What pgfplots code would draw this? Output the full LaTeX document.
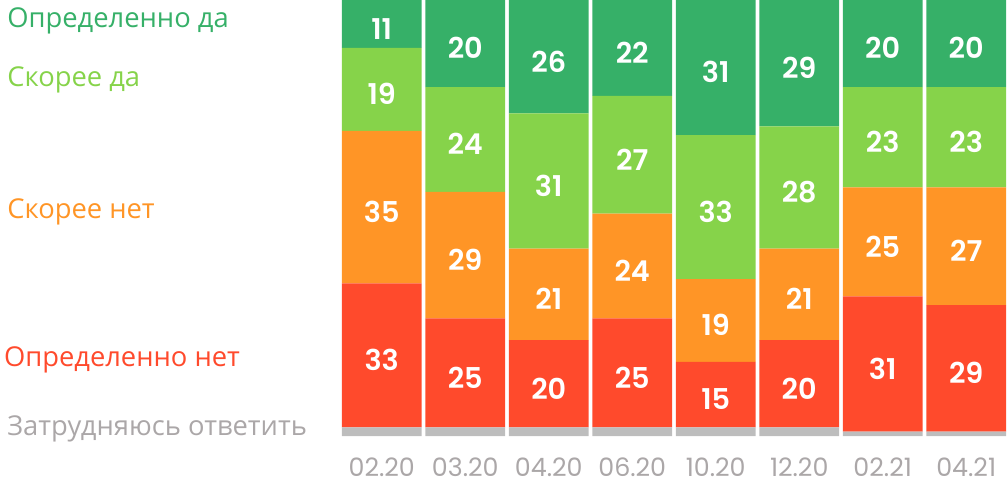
\documentclass[border=0pt]{standalone}
\usepackage{pgfplots}
\pgfplotsset{compat=1.18}
\usepackage{fontspec}
\setmainfont{Open Sans}
\newfontfamily\pop{Poppins}
\newfontfamily\popsb{Poppins SemiBold}
\definecolor{cdg}{HTML}{36B068}
\definecolor{clg}{HTML}{86D34A}
\definecolor{cor}{HTML}{FF9526}
\definecolor{cre}{HTML}{FF4A2C}
\definecolor{cgr}{HTML}{BDBDBD}
\definecolor{ctx}{HTML}{ABA7A8}
\begin{document}
\begin{tikzpicture}
\useasboundingbox (-255pt,-33pt) rectangle (501pt,327pt);
\begin{axis}[
  at={(0pt,0pt)}, anchor=south west,
  width=501pt, height=327pt, scale only axis,
  ybar stacked, bar width=0.957,
  xmin=-0.5, xmax=7.5, ymin=0, ymax=100,
  xtick=data,
  xticklabels={02.20,03.20,04.20,06.20,10.20,12.20,02.21,04.21},
  ytick=\empty,
  axis line style={draw=none}, tick style={draw=none},
  xticklabel style={font=\pop\fontsize{19}{22}\selectfont, text=ctx, anchor=north, inner sep=0pt, text depth=0pt, yshift=-16.5pt},
  clip=false,
  nodes near coords={\popsb\pgfmathprintnumber[assume math mode=true]{\pgfplotspointmeta}},
  every node near coord/.append style={font=\fontsize{21.5}{24}\selectfont, text=white, anchor=center, yshift=-3.5pt},
]
\addplot[fill=cgr, draw=none, nodes near coords=] coordinates {(0,2) (1,2) (2,2) (3,2) (4,2) (5,2) (6,1) (7,1)};
\addplot[fill=cre, draw=none] coordinates {(0,33) (1,25) (2,20) (3,25) (4,15) (5,20) (6,31) (7,29)};
\addplot[fill=cor, draw=none] coordinates {(0,35) (1,29) (2,21) (3,24) (4,19) (5,21) (6,25) (7,27)};
\addplot[fill=clg, draw=none] coordinates {(0,19) (1,24) (2,31) (3,27) (4,33) (5,28) (6,23) (7,23)};
\addplot[fill=cdg, draw=none] coordinates {(0,11) (1,20) (2,26) (3,22) (4,31) (5,29) (6,20) (7,20)};
\node[anchor=west, text=cdg, font=\fontsize{20.5}{22}\selectfont] at (axis cs:-4.54,95.3) {Определенно да};
\node[anchor=west, text=clg, font=\fontsize{20.5}{22}\selectfont] at (axis cs:-4.54,81.6) {Скорее да};
\node[anchor=west, text=cor, font=\fontsize{20.5}{22}\selectfont] at (axis cs:-4.54,51.3) {Скорее нет};
\node[anchor=west, text=cre, font=\fontsize{20.5}{22}\selectfont] at (axis cs:-4.58,17.4) {Определенно нет};
\node[anchor=west, text=ctx, font=\fontsize{20.5}{22}\selectfont] at (axis cs:-4.54,1.6) {Затрудняюсь ответить};
\end{axis}
\end{tikzpicture}
\end{document}
